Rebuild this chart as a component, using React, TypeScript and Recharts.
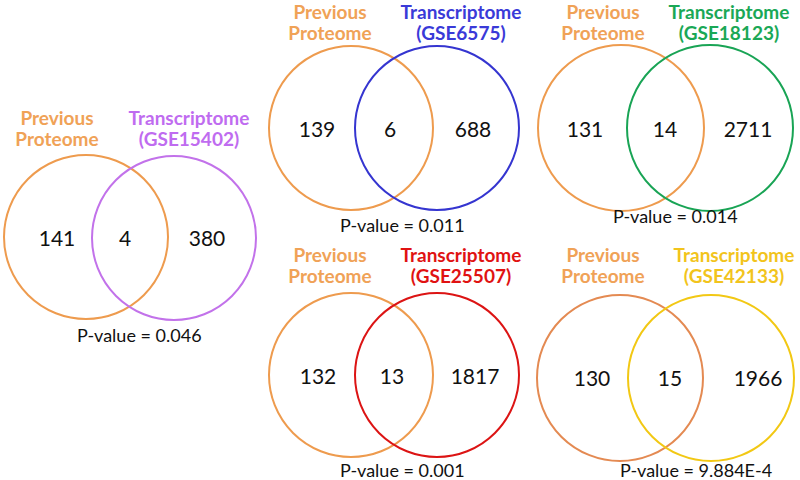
import { Scatter, ScatterChart, XAxis, YAxis } from "recharts";

// values
const datasets = ["GSE15402", "GSE6575", "GSE18123", "GSE25507", "GSE42133"];
const proteomeOnly = [141, 139, 131, 132, 130];
const overlap = [4, 6, 14, 13, 15];
const transcriptomeOnly = [380, 688, 2711, 1817, 1966];
const pValues = ["0.046", "0.011", "0.014", "0.001", "9.884E-4"];

const transColors = ["#c272ea", "#3535d0", "#19a455", "#dc1414", "#f2c814"];
const transLabelColors = ["#bf6cf0", "#3a3ad8", "#1aa856", "#e01212", "#f2c41c"];
const orangeCircle = ["#ee9b4e", "#ee9b4e", "#ee9b4e", "#ee9b4e", "#e48a52"];
const orangeLabel = "#f0a257";

// panel layout (pixel space of the 800x480 frame); ly = baseline of first label line
const layout = [
  { ox: 86, oy: 237, tx: 174, ty: 238, r: 82, n: [57, 125, 207], ny: 237, px: 57, tlx: 189, ly: 125, pX: 77, pY: 335 },
  { ox: 351, oy: 128, tx: 437, ty: 128, r: 82, n: [317, 390, 473], ny: 128, px: 330, tlx: 461, ly: 19, pX: 340, pY: 225 },
  { ox: 621, oy: 128, tx: 710, ty: 128, r: 83, n: [585, 665, 748], ny: 128, px: 603, tlx: 729, ly: 19, pX: 613, pY: 216 },
  { ox: 351, oy: 375, tx: 437, ty: 375, r: 82, n: [318, 392, 475], ny: 375, px: 330, tlx: 461, ly: 262, pX: 340, pY: 470 },
  { ox: 620, oy: 378, tx: 711, ty: 378, r: 83, n: [592, 670, 758], ny: 377, px: 603, tlx: 734, ly: 262, pX: 620, pY: 470 },
];

const circles = layout.flatMap((l, i) => [
  { x: l.ox, y: l.oy, r: l.r, color: orangeCircle[i] },
  { x: l.tx, y: l.ty, r: l.r, color: transColors[i] },
]);

const numbers = layout.flatMap((l, i) => [
  { x: l.n[0], y: l.ny, text: String(proteomeOnly[i]) },
  { x: l.n[1], y: l.ny, text: String(overlap[i]) },
  { x: l.n[2], y: l.ny, text: String(transcriptomeOnly[i]) },
]);

const labels = layout.flatMap((l, i) => [
  { x: l.px, y: l.ly, text: "Previous", color: orangeLabel },
  { x: l.px, y: l.ly + 21, text: "Proteome", color: orangeLabel },
  { x: l.tlx, y: l.ly, text: "Transcriptome", color: transLabelColors[i] },
  { x: l.tlx, y: l.ly + 21, text: `(${datasets[i]})`, color: transLabelColors[i] },
]);

const pLabels = layout.map((l, i) => ({ x: l.pX, y: l.pY, text: `P-value = ${pValues[i]}` }));

const FONT = "Lato, 'Open Sans', sans-serif";

const CircleShape = (props: any) => (
  <circle cx={props.cx} cy={props.cy} r={props.payload.r} fill="none" stroke={props.payload.color} strokeWidth={2} />
);

const NumberShape = (props: any) => (
  <text x={props.cx} y={props.cy} textAnchor="middle" dominantBaseline="central" fontFamily={FONT} fontSize={21} fill="#111">
    {props.payload.text}
  </text>
);

const LabelShape = (props: any) => (
  <text x={props.cx} y={props.cy} textAnchor="middle" fontFamily={FONT} fontSize={19} fontWeight={700} fill={props.payload.color}>
    {props.payload.text}
  </text>
);

const PShape = (props: any) => (
  <text x={props.cx} y={props.cy} textAnchor="start" dominantBaseline="central" fontFamily={FONT} fontSize={18} fill="#111">
    {props.payload.text}
  </text>
);

export default function App() {
  return (
    <div style={{ position: "absolute", left: 0, top: 0, width: 800, height: 480, background: "#fff" }}>
      <ScatterChart width={800} height={480} margin={{ top: 0, right: 0, bottom: 0, left: 0 }}>
        <XAxis type="number" dataKey="x" domain={[0, 800]} hide />
        <YAxis type="number" dataKey="y" domain={[0, 480]} reversed hide />
        <Scatter data={circles} shape={CircleShape} isAnimationActive={false} />
        <Scatter data={numbers} shape={NumberShape} isAnimationActive={false} />
        <Scatter data={labels} shape={LabelShape} isAnimationActive={false} />
        <Scatter data={pLabels} shape={PShape} isAnimationActive={false} />
      </ScatterChart>
    </div>
  );
}
